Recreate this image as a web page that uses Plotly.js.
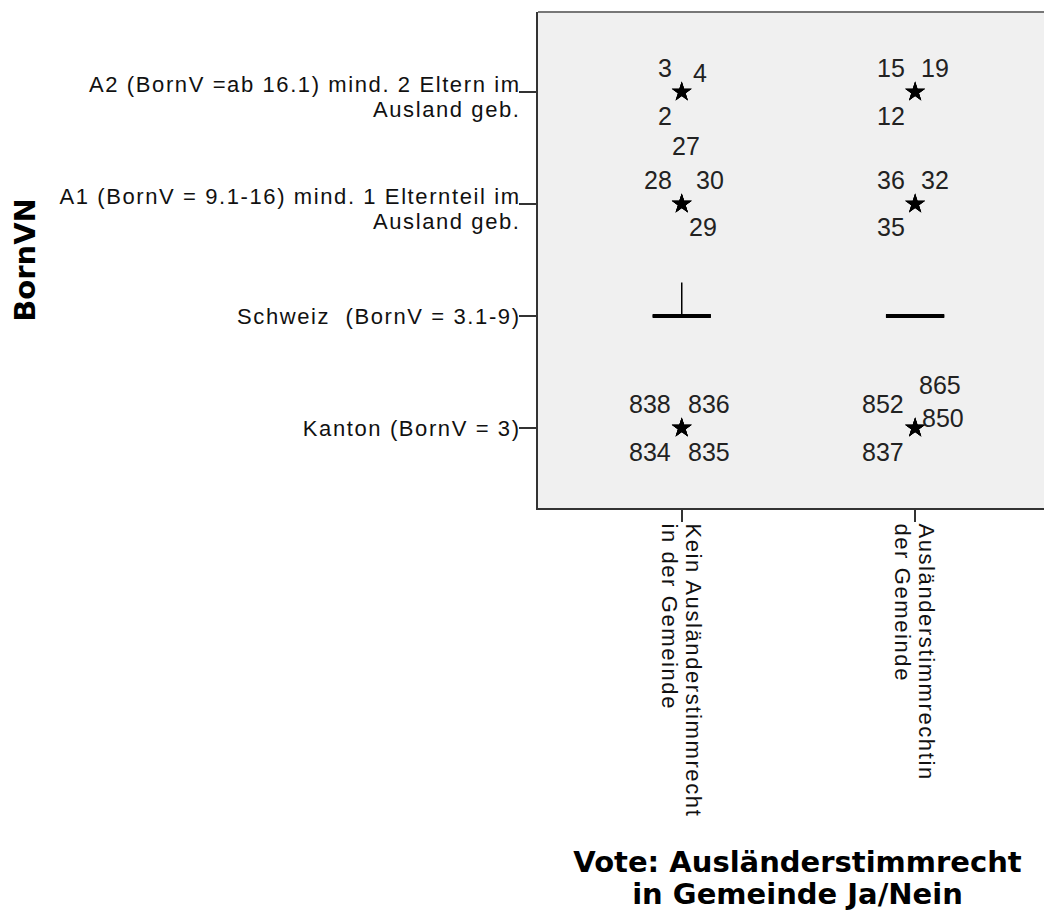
<!DOCTYPE html>
<html>
<head>
<meta charset="utf-8">
<script src="https://cdn.plot.ly/plotly-3.0.1.min.js"></script>
<style>
  html, body { margin: 0; padding: 0; background: #fff; overflow: hidden; }
  #chart .xtick text, #chart .ytick text { letter-spacing: 1.6px; }
</style>
</head>
<body>
<div id="chart"></div>
<script>
// ---- Data ----
const voteGroups = [
  "Kein Ausländerstimmrecht<br>in der Gemeinde",
  "Ausländerstimmrechtin<br>der Gemeinde"
];
const bornCodes = [1, 2, 3, 4];
const bornLabels = [
  "Kanton (BornV = 3)",
  "Schweiz  (BornV = 3.1-9)",
  "A1 (BornV = 9.1-16) mind. 1 Elternteil im<br>Ausland geb.",
  "A2 (BornV =ab 16.1) mind. 2 Eltern im<br>Ausland geb."
];

// box statistics per vote group
const boxQ1 = [2, 2];
const boxMedian = [2, 2];
const boxQ3 = [2, 2];
const boxLowerFence = [2, 2];
const boxUpperFence = [2.3, 2];

// extreme values (asterisks) with case numbers
const extremeCase  = [3, 4, 2,  27, 28, 30, 29,  15, 19, 12,  36, 32, 35,  838, 836, 834, 835,  852, 865, 850, 837];
const extremeGroup = [0, 0, 0,  0, 0, 0, 0,      1, 1, 1,     1, 1, 1,     0, 0, 0, 0,          1, 1, 1, 1];
const extremeBorn  = [4, 4, 4,  3, 3, 3, 3,      4, 4, 4,     3, 3, 3,     1, 1, 1, 1,          1, 1, 1, 1];

// ---- label placement around each asterisk (pixels: dx right, dy down) ----
const labelOffsets = [
  [-17,-24],[18,-19],[-17,24],
  [4,-58],[-24,-24],[28,-24],[21,23],
  [-24,-24],[20,-24],[-24,24],
  [-24,-24],[20,-24],[-24,23],
  [-32,-24],[27,-24],[-32,24],[27,24],
  [-32,-24],[25,-43],[28,-10],[-32,24]
];

const tickFont = {family: "Liberation Sans, Arial, sans-serif", size: 22, color: "#111"};
const titleFont = {family: "DejaVu Sans, sans-serif", size: 29, color: "#000", weight: "bold"};

const medianTrace = {
  type: "box",
  x: voteGroups,
  q1: boxQ1, median: boxMedian, q3: boxQ3,
  lowerfence: boxQ1, upperfence: boxQ3,
  width: 0.25,
  boxpoints: false,
  whiskerwidth: 0,
  line: {color: "#000", width: 4},
  fillcolor: "rgba(0,0,0,0)",
  hoverinfo: "skip",
  showlegend: false
};
const whiskerTrace = {
  type: "box",
  x: voteGroups,
  q1: boxQ1, median: boxMedian, q3: boxQ3,
  lowerfence: boxLowerFence, upperfence: boxUpperFence,
  width: 0.25,
  boxpoints: false,
  whiskerwidth: 0,
  line: {color: "#000", width: 1.5},
  fillcolor: "rgba(0,0,0,0)",
  hoverinfo: "skip",
  showlegend: false
};
const extremeTrace = {
  type: "scatter",
  mode: "markers",
  x: extremeGroup.map(g => voteGroups[g]),
  y: extremeBorn,
  marker: {symbol: "star", size: 15, color: "#000", line: {width: 0}},
  hoverinfo: "skip",
  showlegend: false
};

const annotations = extremeCase.map((c, i) => ({
  x: voteGroups[extremeGroup[i]],
  y: extremeBorn[i],
  xref: "x", yref: "y",
  text: String(c),
  showarrow: false,
  xanchor: "center", yanchor: "middle",
  xshift: labelOffsets[i][0],
  yshift: -labelOffsets[i][1],
  font: {family: "Liberation Sans, Arial, sans-serif", size: 25, color: "#222"}
}));

const layout = {
  width: 1060,
  height: 913,
  margin: {l: 538, r: 3, t: 12, b: 405},
  paper_bgcolor: "#ffffff",
  plot_bgcolor: "#f0f0f0",
  boxmode: "overlay",
  showlegend: false,
  xaxis: {
    type: "category",
    range: [-0.616, 1.608],
    showgrid: false, zeroline: false,
    showline: true, linecolor: "#333", linewidth: 2,
    ticks: "outside", ticklen: 12, tickwidth: 2, tickcolor: "#333",
    tickangle: 90,
    ticklabelstandoff: -3,
    tickfont: tickFont,
    title: {text: "Vote: Ausländerstimmrecht<br>in Gemeinde Ja/Nein", font: titleFont, standoff: 78}
  },
  yaxis: {
    range: [0.286, 4.714],
    tickmode: "array",
    tickvals: bornCodes,
    ticktext: bornLabels,
    showgrid: false, zeroline: false,
    showline: true, linecolor: "#333", linewidth: 2,
    ticks: "outside", ticklen: 17, tickwidth: 2, tickcolor: "#333",
    ticklabelstandoff: -6,
    tickfont: tickFont,
    title: {text: "BornVN", font: titleFont, standoff: 81}
  },
  shapes: [{
    type: "line", xref: "paper", yref: "paper",
    x0: 0, x1: 1, y0: 1, y1: 1,
    line: {color: "#777", width: 2}
  }],
  annotations: annotations
};

function tightenLines(selector, em, dx, dy) {
  document.querySelectorAll(selector).forEach(function (t) {
    const lines = t.querySelectorAll("tspan.line");
    if (lines.length < 2) return;
    lines.forEach(function (ln, i) { if (i > 0) ln.setAttribute("dy", (i * em) + "em"); });
    const tr = t.getAttribute("transform") || "";
    t.setAttribute("transform", "translate(" + dx + "," + dy + ") " + tr);
  });
}

Plotly.newPlot("chart", [medianTrace, whiskerTrace, extremeTrace], layout, {displayModeBar: false, staticPlot: true})
  .then(function () {
    tightenLines("#chart .ytick text", 1.1, 0, 7);
    tightenLines("#chart .xtick text", 1.1, -3, 0);
    tightenLines("#chart .g-xtitle text", 1.1, 0, 4);
  });
</script>
</body>
</html>
